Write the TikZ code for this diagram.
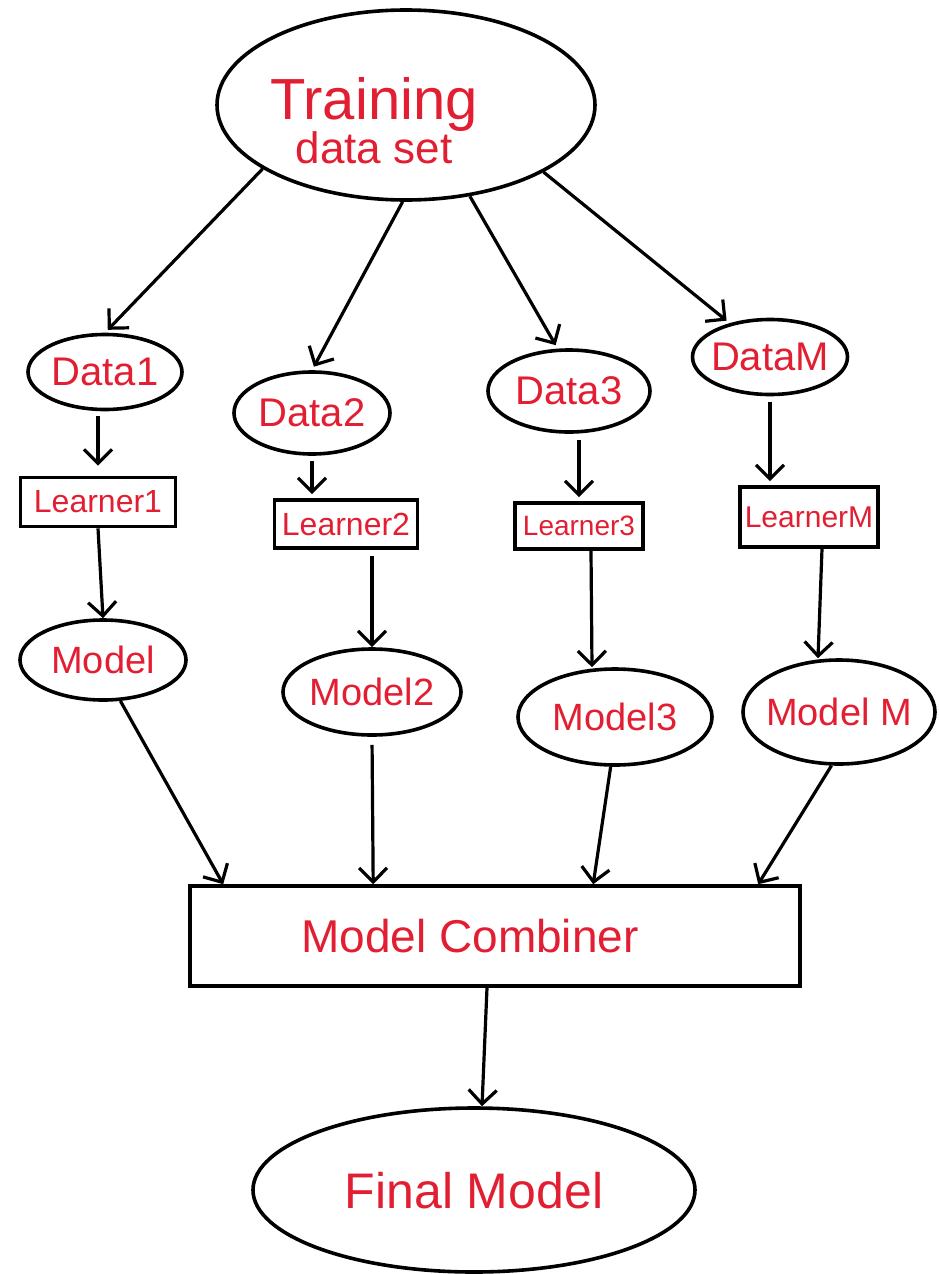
\documentclass[tikz,border=0pt]{standalone}
\usepackage{fontspec}
\setmainfont{Liberation Sans}
\usetikzlibrary{shapes.geometric,arrows.meta}
\definecolor{ink}{RGB}{226,30,50}
% text set in a box of no size, so the outline keeps the size it is given
\newcommand{\inside}[1]{\makebox[0pt]{\smash{\raisebox{-0.5\height}{#1}}}}

\begin{document}
\begin{tikzpicture}[x=1pt,y=-1pt,
  blob/.style={ellipse,draw=black,line width=3.6pt,inner sep=0pt,text=ink},
  box/.style={rectangle,draw=black,line width=3.6pt,inner sep=0pt,text=ink},
  arr/.style={-{Straight Barb[length=14pt,width=28pt]},line width=3.2pt,black},
  datafont/.style={font=\fontsize{40}{44}\selectfont},
  learnfont/.style={font=\fontsize{32}{36}\selectfont},
  modelfont/.style={font=\fontsize{38}{42}\selectfont},
  bigfont/.style={font=\fontsize{50}{54}\selectfont}]
\useasboundingbox (0,0) rectangle (939,1274);

% source set
\node[blob,minimum width=378pt,minimum height=190pt] (train) at (406,105)
  {\makebox[0pt]{\hspace*{-64pt}\smash{\raisebox{-20pt}{\begin{tabular}{@{}c@{}}%
   {\fontsize{58}{60}\selectfont Training}\\[9pt]%
   {\fontsize{44}{46}\selectfont data set}\end{tabular}}}}};

% subsets
\node[blob,datafont,minimum width=154pt,minimum height=75pt] (d1) at (105,372) {\inside{Data1}};
\node[blob,datafont,minimum width=156pt,minimum height=82pt] (d2) at (312,413) {\inside{Data2}};
\node[blob,datafont,minimum width=162pt,minimum height=82pt] (d3) at (569,391) {\inside{Data3}};
\node[blob,datafont,minimum width=155pt,minimum height=75pt] (dM) at (770,357) {\inside{DataM}};

% learners
\node[box,learnfont,minimum width=155pt,minimum height=49pt] (l1) at (98,502) {Learner1};
\node[box,learnfont,minimum width=143pt,minimum height=48pt] (l2) at (346,524) {Learner2};
\node[box,font=\fontsize{28}{32}\selectfont,minimum width=128pt,minimum height=46pt] (l3) at (579,526) {Learner3};
\node[box,font=\fontsize{30}{34}\selectfont,minimum width=138pt,minimum height=60pt] (lM) at (809,517) {LearnerM};

% models
\node[blob,modelfont,minimum width=166pt,minimum height=80pt] (m1) at (103,660) {\inside{Model}};
\node[blob,modelfont,minimum width=178pt,minimum height=86pt] (m2) at (372,692) {\inside{Model2}};
\node[blob,modelfont,minimum width=194pt,minimum height=96pt] (m3) at (615,717) {\inside{Model3}};
\node[blob,modelfont,minimum width=192pt,minimum height=104pt] (mM) at (839,712) {\inside{Model M}};

% combiner and result
\node[box,font=\fontsize{46}{50}\selectfont,minimum width=610pt,minimum height=100pt] (comb) at (495,936)
  {\hspace*{-50pt}Model Combiner};
\node[blob,bigfont,minimum width=442pt,minimum height=164pt] (final) at (474,1190) {\inside{Final Model}};

% splitting the set
\draw[arr,shorten >=4pt] (train.204) -- (d1.north);
\draw[arr,shorten >=4pt] (train.268) -- (d2.north);
\draw[arr,shorten >=4pt] (train.305) -- (d3.105);
\draw[arr,shorten >=4pt] (train.334) -- (dM.140);

% subsets to learners
\draw[arr,shorten <=5pt,shorten >=10pt] (l1.north |- d1.south) -- (l1.north);
\draw[arr,shorten <=5pt,shorten >=4pt] (d2.south) -- (d2.south |- l2.north);
\draw[arr,shorten <=6pt,shorten >=4pt] (l3.north |- d3.south) -- (l3.north);
\draw[arr,shorten <=6pt,shorten >=4pt] (dM.south) -- (dM.south |- lM.north);

% learners to models
\draw[arr] (l1.south) -- (m1.north);
\draw[arr,shorten <=6pt] (m2.north |- l2.south) -- (m2.north);
\draw[arr] ([xshift=12pt]l3.south) -- ([xshift=-23pt]m3.north);
\draw[arr] ([xshift=13pt]lM.south) -- ([xshift=-21pt]mM.north);

% models to combiner
\draw[arr] (m1.293) -- ([xshift=35pt]comb.north west);
\draw[arr,shorten <=8pt] (m2.south) -- ([xshift=185pt]comb.north west);
\draw[arr] (m3.265) -- ([xshift=405pt]comb.north west);
\draw[arr] (mM.262) -- ([xshift=570pt]comb.north west);

% combiner to result
\draw[arr] ([xshift=-8pt]comb.south) -- ([xshift=8pt]final.north);
\end{tikzpicture}
\end{document}
